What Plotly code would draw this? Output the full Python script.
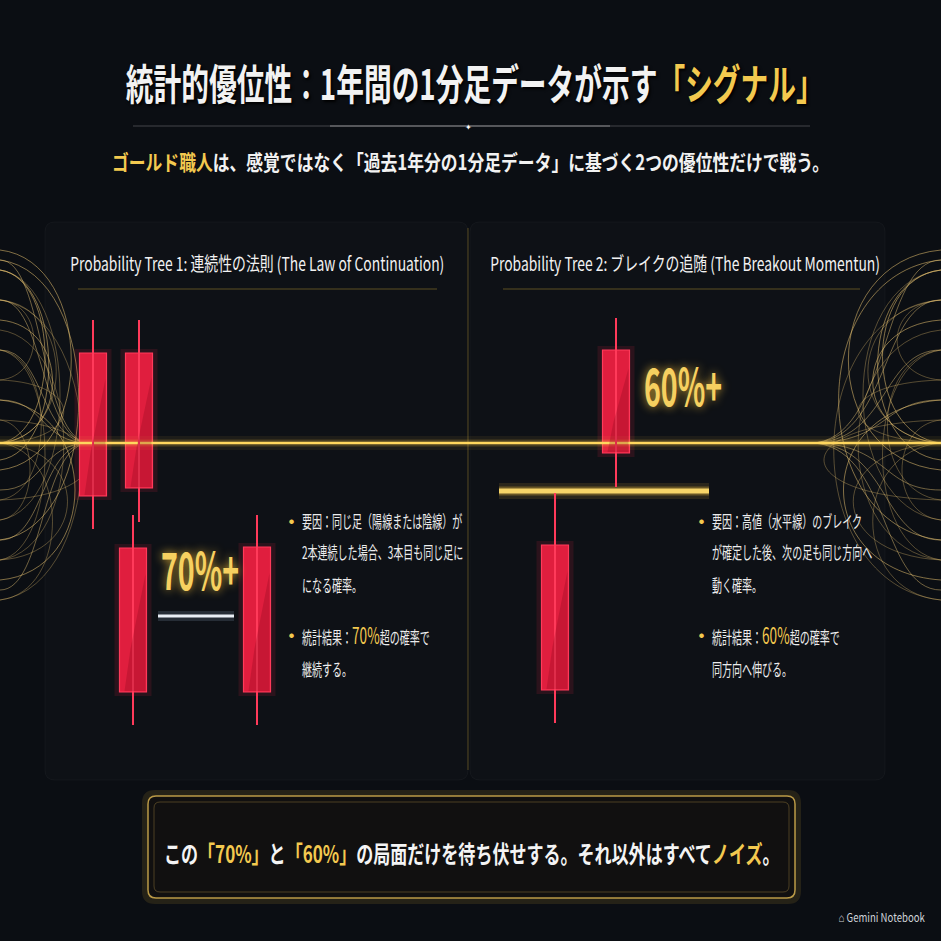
import json
import plotly.graph_objects as go

# ---- データ（画面上の座標系: x 0-941, y 0-941 上が0）----
# Probability Tree 1: 連続性の法則
tree1_x = [93, 139, 133, 257]
tree1_high = [320, 320, 515, 515]
tree1_open = [353, 353, 548, 547]
tree1_close = [496, 488, 692, 692]
tree1_low = [529, 522, 725, 725]

# Probability Tree 2: ブレイクの追随
tree2_x = [616, 555]
tree2_high = [318, 493]
tree2_open = [350, 545]
tree2_close = [453, 690]
tree2_low = [487, 723]

gold_line_x = [0, 941]
gold_line_y = [443, 443]
breakout_x = [499, 709]
breakout_y = [491, 491]
neutral_x = [158, 234]
neutral_y = [616, 616]

title_white = "統計的優位性：1年間の1分足データが示す"
title_gold = "「シグナル」"
sub_gold = "ゴールド職人"
sub_white = "は、感覚ではなく「過去1年分の1分足データ」に基づく2つの優位性だけで戦う。"
header1 = "Probability Tree 1: 連続性の法則 (The Law of Continuation)"
header2 = "Probability Tree 2: ブレイクの追随 (The Breakout Momentun)"
pct1 = "70%+"
pct2 = "60%+"
bullets1 = ["要因：同じ足（陽線または陰線）が", "2本連続した場合、3本目も同じ足に", "になる確率。",
            "統計結果：{p}超の確率で", "継続する。"]
bullets2 = ["要因：高値（水平線）のブレイク", "が確定した後、次の足も同じ方向へ", "動く確率。",
            "統計結果：{p}超の確率で", "同方向へ伸びる。"]
bullet_pcts = ["70%", "60%"]
footer_parts = [("この", "w"), ("「70%」", "g"), ("と", "w"), ("「60%」", "g"),
                ("の局面だけを待ち伏せする。それ以外はすべて", "w"), ("ノイズ", "g"), ("。", "w")]

GOLD = "#f3c94f"
RED = "#e01e3e"
RED_EDGE = "#ff3a5a"
BG = "#0b0e13"
JP = "Noto Sans CJK JP"
BODY_W = 27

fig = go.Figure()

# 金色の水平ライン（グロー付き）
for w, c in [(14, "rgba(245,197,66,0.07)"), (7, "rgba(245,197,66,0.2)"), (2.4, "#ffd75e")]:
    fig.add_trace(go.Scatter(x=gold_line_x, y=gold_line_y, mode="lines",
                             line=dict(color=c, width=w), hoverinfo="skip"))

# ブレイクライン
for w, c in [(16, "rgba(245,197,66,0.12)"), (9, "rgba(245,197,66,0.3)"), (5, "#f6d468")]:
    fig.add_trace(go.Scatter(x=breakout_x, y=breakout_y, mode="lines",
                             line=dict(color=c, width=w), hoverinfo="skip"))

# 中立の白ライン
for w, c in [(10, "rgba(180,210,240,0.15)"), (3, "#e9eef5")]:
    fig.add_trace(go.Scatter(x=neutral_x, y=neutral_y, mode="lines",
                             line=dict(color=c, width=w), hoverinfo="skip"))


def add_candles(xs, highs, opens, closes, lows):
    wx, wy = [], []
    for x, h, l in zip(xs, highs, lows):
        wx += [x, x, None]
        wy += [h, l, None]
    fig.add_trace(go.Scatter(x=wx, y=wy, mode="lines", line=dict(color=RED_EDGE, width=2),
                             hoverinfo="skip"))
    fig.add_trace(go.Bar(x=xs, base=[o - 4 for o in opens],
                         y=[c - o + 8 for o, c in zip(opens, closes)], width=BODY_W + 10,
                         marker=dict(color="rgba(255,40,70,0.12)", line=dict(width=0)),
                         hoverinfo="skip"))
    fig.add_trace(go.Bar(x=xs, base=opens, y=[c - o for o, c in zip(opens, closes)], width=BODY_W,
                         marker=dict(color=RED, line=dict(color=RED_EDGE, width=1.2)),
                         hoverinfo="skip"))


add_candles(tree1_x, tree1_high, tree1_open, tree1_close, tree1_low)
add_candles(tree2_x, tree2_high, tree2_open, tree2_close, tree2_low)


def rrect(x0, y0, x1, y1, r):
    return (f"M {x0+r},{y0} L {x1-r},{y0} Q {x1},{y0} {x1},{y0+r} L {x1},{y1-r} "
            f"Q {x1},{y1} {x1-r},{y1} L {x0+r},{y1} Q {x0},{y1} {x0},{y1-r} "
            f"L {x0},{y0+r} Q {x0},{y0} {x0+r},{y0} Z")


shapes = []
# パネル背景
shapes.append(dict(type="path", path=rrect(45, 222, 468, 780, 10), layer="below",
                   fillcolor="rgba(255,255,255,0.014)", line=dict(color="rgba(255,255,255,0.035)", width=1)))
shapes.append(dict(type="path", path=rrect(470, 222, 885, 780, 10), layer="below",
                   fillcolor="rgba(255,255,255,0.014)", line=dict(color="rgba(255,255,255,0.035)", width=1)))
shapes.append(dict(type="line", x0=468, x1=468, y0=228, y1=770, layer="below",
                   line=dict(color="rgba(212,175,55,0.35)", width=1)))
# 見出しの下線
shapes.append(dict(type="line", x0=78, x1=437, y0=289, y1=289, layer="below",
                   line=dict(color="rgba(212,175,55,0.4)", width=1)))
shapes.append(dict(type="line", x0=503, x1=860, y0=289, y1=289, layer="below",
                   line=dict(color="rgba(212,175,55,0.4)", width=1)))
# タイトル下の区切り線
shapes.append(dict(type="line", x0=133, x1=810, y0=126, y1=126, layer="below",
                   line=dict(color="rgba(200,200,200,0.3)", width=1)))
shapes.append(dict(type="line", x0=330, x1=610, y0=126, y1=126, layer="below",
                   line=dict(color="rgba(230,230,230,0.5)", width=1)))
# 下部のボックス
shapes.append(dict(type="path", path=rrect(146, 794, 797, 900, 9), layer="below",
                   fillcolor="rgba(0,0,0,0)", line=dict(color="rgba(230,180,60,0.12)", width=8)))
shapes.append(dict(type="path", path=rrect(148, 796, 795, 898, 8), layer="below",
                   fillcolor="rgba(18,17,16,0.95)", line=dict(color="rgba(214,176,80,0.85)", width=1.5)))
shapes.append(dict(type="path", path=rrect(154, 802, 789, 892, 6), layer="below",
                   fillcolor="rgba(0,0,0,0)", line=dict(color="rgba(214,176,80,0.3)", width=1)))

# ローソク足の胴体に斜めの陰影
for xs, opens, closes in [(tree1_x, tree1_open, tree1_close), (tree2_x, tree2_open, tree2_close)]:
    for x, o, c in zip(xs, opens, closes):
        l, r, h = x - BODY_W / 2 + 1, x + BODY_W / 2 - 1, c - o
        shapes.append(dict(type="path", layer="above", line=dict(width=0),
                           fillcolor="rgba(110,0,20,0.22)",
                           path=f"M {r},{o + h * 0.18} L {r},{c - 1} L {l + 4},{c - 1} L {l + 10},{o + h * 0.7} Z"))

# 左右の金色の装飾曲線
swirls = [(250, 470, 95), (270, 520, 80), (300, 600, 110), (320, 443, 70), (350, 560, 60),
          (380, 443, 85), (400, 580, 100), (443, 300, 75), (443, 560, 90), (460, 270, 65),
          (500, 350, 55), (520, 420, 40), (540, 260, 105), (300, 380, 45), (420, 500, 120),
          (270, 443, 60), (600, 443, 70), (560, 330, 85)]
for side in (0, 1):
    for i, (ya, yb, bx) in enumerate(swirls):
        ext = bx * (1.3 if side else 1.0)
        if side == 0:
            p = f"M 0,{ya} C {ext},{ya + (yb - ya) * 0.05} {ext},{yb - (yb - ya) * 0.05} 0,{yb}"
        else:
            p = f"M 941,{ya} C {941 - ext},{ya + (yb - ya) * 0.05} {941 - ext},{yb - (yb - ya) * 0.05} 941,{yb}"
        alpha = 0.55 if i % 3 == 0 else 0.35
        shapes.append(dict(type="path", path=p, layer="below",
                           line=dict(color=f"rgba(225,190,110,{alpha})", width=1)))
    for ya in (260, 300, 350, 400, 490, 540, 590):
        if side == 0:
            p = f"M 0,{ya} C 45,{ya} 40,443 90,443"
        else:
            p = f"M 941,{ya} C 880,{ya} 890,443 810,443"
        shapes.append(dict(type="path", path=p, layer="below",
                           line=dict(color="rgba(235,200,120,0.45)", width=1)))

annotations = []
squeeze = []  # 横方向の縮小率（元画像のフォントは縦長）


def txt(x, y, text, size, color="#f2f2f2", anchor="center", sq=1.0, shadow=None):
    f = dict(family=JP, size=size, color=color)
    if shadow:
        f["shadow"] = shadow
    annotations.append(dict(x=x, y=y, xref="x", yref="y", text=text, showarrow=False,
                            xanchor=anchor, align=anchor, yanchor="middle", font=f))
    squeeze.append(sq)


txt(475, 81, f"<b>{title_white}<span style='color:{GOLD}'>{title_gold}</span></b>", 42,
    sq=0.66, shadow="2px 2px 3px #000")
txt(468, 126, "✦", 8, color="#ffffff")
txt(470, 161, f"<b><span style='color:{GOLD}'>{sub_gold}</span>{sub_white}</b>", 21, sq=0.8)
txt(257, 262, header1, 19, sq=0.73)
txt(685, 262, header2, 19, sq=0.73)
txt(200, 567, f"<b>{pct1}</b>", 52, color="#f6d060", sq=0.55,
    shadow="0 0 10px rgba(255,200,60,0.8)")
txt(683, 383, f"<b>{pct2}</b>", 52, color="#f6d060", sq=0.55,
    shadow="0 0 10px rgba(255,200,60,0.8)")

line_y = [520, 551, 584, 634, 668]
for bx, lines, pct in [(300, bullets1, bullet_pcts[0]), (710, bullets2, bullet_pcts[1])]:
    for j, (ly, t) in enumerate(zip(line_y, lines)):
        t = t.replace("{p}", f"<span style='color:{GOLD};font-size:23px'>{pct}</span>")
        txt(bx, ly, t, 17, color="#ececec", anchor="left", sq=0.59)
        if j in (0, 3):
            txt(bx - 9, ly, "●", 5, color=GOLD)

footer = "".join(f"<span style='color:{GOLD if c == 'g' else '#f4f4f4'}'>{s}</span>" for s, c in footer_parts)
txt(472, 852, f"<b>{footer}</b>", 24, sq=0.71)
txt(927, 916, "⌂ Gemini Notebook", 12, color="#cfd3d8", anchor="right", sq=0.8)

fig.update_layout(
    width=941, height=941, margin=dict(l=0, r=0, t=0, b=0),
    paper_bgcolor=BG, plot_bgcolor=BG, showlegend=False, barmode="overlay",
    xaxis=dict(range=[0, 941], visible=False, fixedrange=True),
    yaxis=dict(range=[941, 0], visible=False, fixedrange=True),
    shapes=shapes, annotations=annotations,
)

# ページ余白を消し、注釈テキストを横方向に縮める
post = """
document.body.style.margin = '0';
document.body.style.background = '%s';
var gd = document.getElementById('{plot_id}');
var sq = %s;
gd.querySelectorAll('g.annotation').forEach(function (g) {
  var i = +g.getAttribute('data-index');
  var t = g.querySelector('text.annotation-text');
  if (!t || sq[i] === 1) return;
  var x = parseFloat(t.getAttribute('x')) || 0, y = parseFloat(t.getAttribute('y')) || 0;
  t.setAttribute('transform', 'translate(' + x + ',' + y + ') scale(' + sq[i] + ',1) translate(' + (-x) + ',' + (-y) + ')');
});
""" % (BG, json.dumps(squeeze))

fig.write_html("out.html", config={"displayModeBar": False, "responsive": False}, post_script=post)
